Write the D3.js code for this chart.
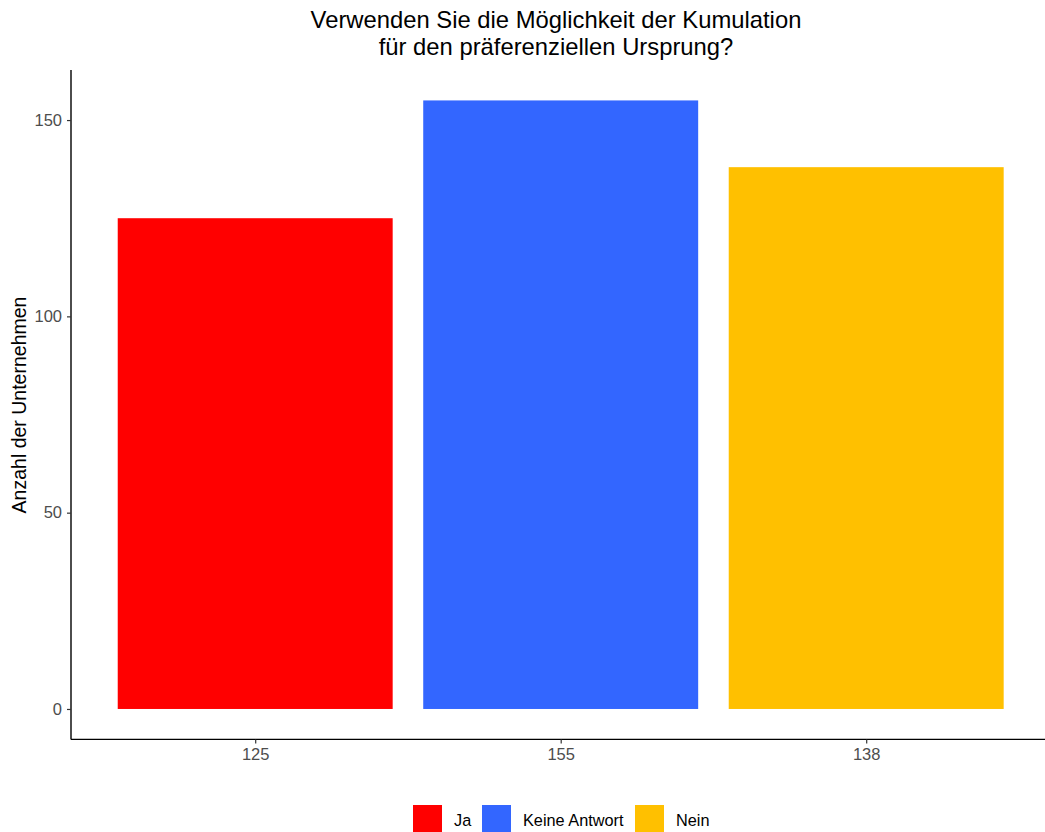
<!DOCTYPE html>
<html><head><meta charset="utf-8">
<script src="https://cdn.jsdelivr.net/npm/d3@7"></script>
<style>body{margin:0;background:#fff}svg{display:block}</style>
</head><body><svg id="c" width="1045" height="832"></svg>
<script>
const categories = ["Ja", "Keine Antwort", "Nein"];
const values = [125, 155, 138];
const tickLabels = ["125", "155", "138"];
const colors = ["#FF0000", "#3366FF", "#FFC000"];
const yTicks = [0, 50, 100, 150];

const svg = d3.select("#c");
const font = "'Liberation Sans', Arial, sans-serif";
const L = 71, T = 70, B = 739.4;

const x = d3.scaleLinear().domain([0.4, 3.6]).range([71.9, 1049.5]);
const y = d3.scaleLinear().domain([-7.75, 162.75]).range([B, T]);

svg.selectAll("rect.bar").data(values).enter().append("rect")
  .attr("class", "bar")
  .attr("x", (d, i) => x(i + 1 - 0.45))
  .attr("width", (d, i) => x(i + 1 + 0.45) - x(i + 1 - 0.45))
  .attr("y", d => y(d))
  .attr("height", d => y(0) - y(d))
  .attr("fill", (d, i) => colors[i]);

// axes
const yAxis = svg.append("g").attr("transform", `translate(${L},0)`)
  .call(d3.axisLeft(y).tickValues(yTicks).tickSize(4).tickPadding(5));
const xAxis = svg.append("g").attr("transform", `translate(0,${B})`)
  .call(d3.axisBottom(x).tickValues([1, 2, 3]).tickFormat((d, i) => tickLabels[i]).tickSize(4).tickPadding(5));
[yAxis, xAxis].forEach(g => {
  g.select(".domain").attr("stroke", "#000").attr("stroke-width", 1.4);
  g.selectAll(".tick line").attr("stroke", "#333").attr("stroke-width", 1.2);
  g.selectAll(".tick text").attr("fill", "#4d4d4d").style("font-family", font).style("font-size", "16.5px");
});
xAxis.select(".domain").attr("d", `M${L},0H${1045}`);
yAxis.select(".domain").attr("d", `M0,${T}V${B}`);

// title
const title = svg.append("text").attr("text-anchor", "middle")
  .style("font-family", font).style("font-size", "23.8px").attr("fill", "#000");
title.append("tspan").attr("x", 556).attr("y", 28).text("Verwenden Sie die Möglichkeit der Kumulation");
title.append("tspan").attr("x", 556).attr("y", 55).text("für den präferenziellen Ursprung?");

// y label
svg.append("text").attr("transform", `translate(26,${405}) rotate(-90)`)
  .attr("text-anchor", "middle").style("font-family", font).style("font-size", "19.5px")
  .text("Anzahl der Unternehmen");

// legend
const legX = [413, 482, 635];
const g = svg.append("g");
categories.forEach((c, i) => {
  g.append("rect").attr("x", legX[i]).attr("y", 805).attr("width", 29).attr("height", 29).attr("fill", colors[i]);
  g.append("text").attr("x", legX[i] + 41).attr("y", 826)
    .style("font-family", font).style("font-size", "16.3px").text(c);
});
</script></body></html>
